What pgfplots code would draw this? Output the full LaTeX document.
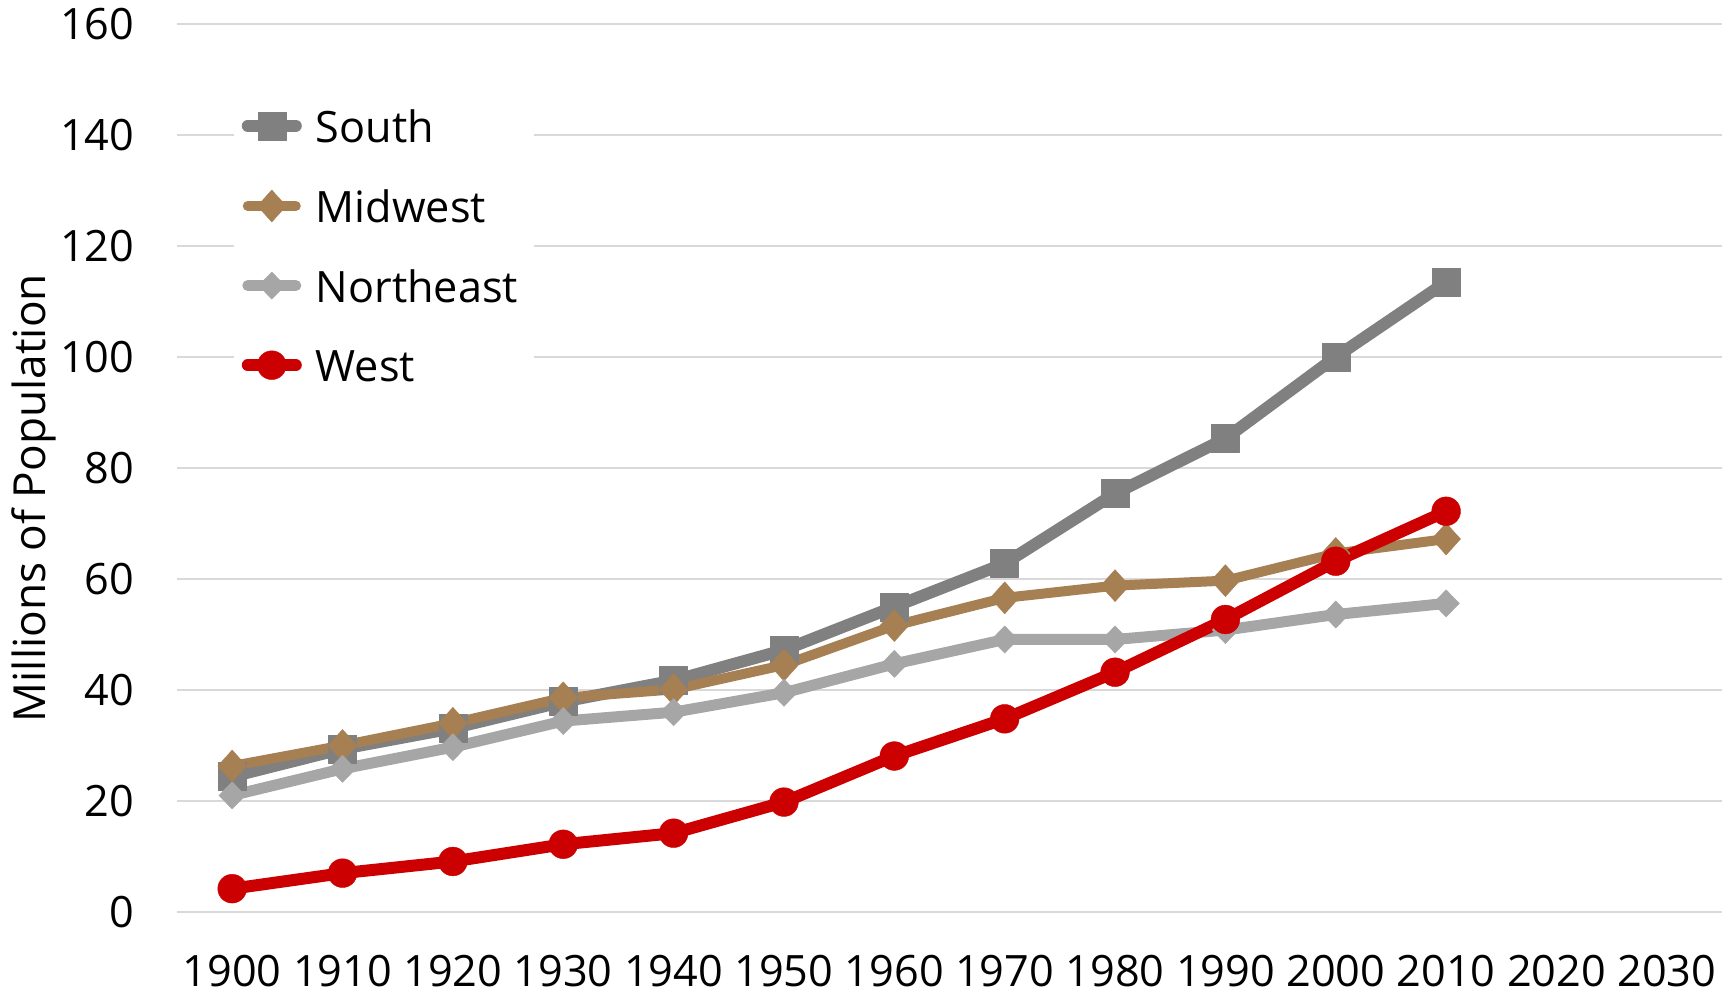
\documentclass[border=0pt]{standalone}
\usepackage{fontspec}
\setmainfont{Open Sans}
\usepackage{pgfplots}
\pgfplotsset{compat=1.18}
\definecolor{southc}{HTML}{808080}
\definecolor{midc}{HTML}{A67F52}
\definecolor{nec}{HTML}{A6A6A6}
\definecolor{westc}{HTML}{CC0000}
\definecolor{gridc}{HTML}{D9D9D9}
\newcommand\lfont{\fontsize{10.8pt}{13pt}\selectfont}
\begin{document}
\begin{tikzpicture}[font=\lfont]
\begin{axis}[
 scale only axis, width=386.25pt, height=222pt,
 xmin=1895, xmax=2035, ymin=0, ymax=160,
 xtick={1900,1910,...,2030}, ytick={0,20,...,160},
 /pgf/number format/assume math mode=true,
 /pgf/number format/1000 sep={},
 axis line style={draw=none}, major tick length=0pt,
 ymajorgrids, grid style={gridc, line width=0.6pt},
 xticklabel style={inner sep=0pt, anchor=north, yshift=-10.65pt, font=\lfont},
 yticklabel style={inner sep=0pt, anchor=east, xshift=-10.5pt, font=\lfont},
 every axis y label/.style={at={(axis description cs:0,0.466)}, xshift=-35.7pt, rotate=90, anchor=center, font=\fontsize{11.05pt}{13pt}\selectfont},
 ylabel={Millions of Population},
 legend cell align=left,
 legend style={draw=none, fill=white, inner xsep=2pt, inner ysep=4pt,
   at={(axis description cs:0,1)}, anchor=north west, xshift=14pt, yshift=-17.4pt,
   row sep=8.9pt, font=\lfont,
   nodes={inner sep=0pt, text height=8pt, text depth=3pt},
   /tikz/every odd column/.style={column sep=3.5pt}},
 legend image code/.code={\draw[mark repeat=2,mark phase=2,line cap=round,yshift=1.65pt] plot coordinates {(1.5pt,0pt) (7.5pt,0pt) (13.5pt,0pt)};},
]
\addplot[color=southc, line width=3pt, line join=round, mark=square*, mark size=3.5pt, mark options={solid, line width=0.1pt}] coordinates {
(1900,24.4)(1910,29.4)(1920,33.1)(1930,37.9)(1940,41.7)(1950,47.2)(1960,55.0)(1970,62.8)(1980,75.4)(1990,85.3)(2000,100.0)(2010,113.5)};
\addlegendentry{South}
\addplot[color=midc, line width=2.5pt, line join=round, mark=diamond*, mark size=4pt, mark options={solid, line width=0.1pt, xscale=1.2}] coordinates {
(1900,26.3)(1910,30.0)(1920,34.0)(1930,38.6)(1940,40.1)(1950,44.5)(1960,51.6)(1970,56.6)(1980,58.8)(1990,59.7)(2000,64.6)(2010,67.2)};
\addlegendentry{Midwest}
\addplot[color=nec, line width=2.75pt, line join=round, mark=diamond*, mark size=3.4pt, mark options={solid, line width=0.1pt, xscale=1.3}] coordinates {
(1900,21.0)(1910,25.8)(1920,29.7)(1930,34.4)(1940,36.0)(1950,39.5)(1960,44.7)(1970,49.1)(1980,49.1)(1990,50.8)(2000,53.6)(2010,55.6)};
\addlegendentry{Northeast\hspace*{1.9pt}}
\addplot[color=westc, line width=3pt, line join=round, mark=*, mark size=3.6pt, mark options={solid, line width=0.1pt}] coordinates {
(1900,4.2)(1910,7.0)(1920,9.1)(1930,12.2)(1940,14.2)(1950,19.8)(1960,28.1)(1970,34.8)(1980,43.2)(1990,52.7)(2000,63.2)(2010,72.2)};
\addlegendentry{West}
\end{axis}
\pgfresetboundingbox
\path[use as bounding box] (-44.25pt,-19.75pt) rectangle (389pt,228pt);
\end{tikzpicture}
\end{document}
